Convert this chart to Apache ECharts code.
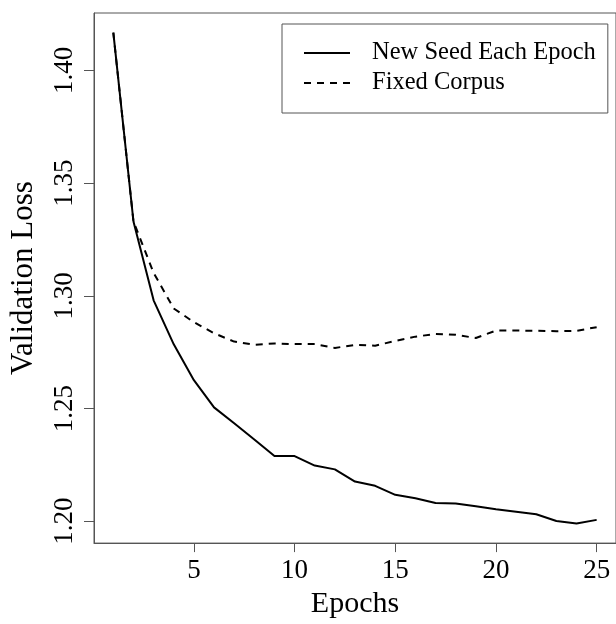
<!DOCTYPE html>
<html>
<head>
<meta charset="utf-8">
<script src="https://cdn.jsdelivr.net/npm/echarts@6/dist/echarts.min.js"></script>
<style>
  html, body { margin: 0; padding: 0; background: #fff; }
  #chart { width: 616px; height: 624px; }
</style>
</head>
<body>
<div id="chart"></div>
<script>
// Validation loss per epoch for the two training regimes
const epochs = [1, 2, 3, 4, 5, 6, 7, 8, 9, 10, 11, 12, 13, 14, 15, 16, 17, 18, 19, 20, 21, 22, 23, 24, 25];
const newSeedLoss = [1.4168, 1.3330, 1.2980, 1.2785, 1.2626, 1.2505, 1.2435, 1.2363, 1.2289, 1.2289,
                     1.2247, 1.2230, 1.2176, 1.2157, 1.2117, 1.2102, 1.2081, 1.2079, 1.2066, 1.2053,
                     1.2042, 1.2031, 1.2001, 1.1990, 1.2006];
const fixedCorpusLoss = [1.4168, 1.3330, 1.3102, 1.2944, 1.2883, 1.2834, 1.2797, 1.2783, 1.2789, 1.2786,
                         1.2786, 1.2769, 1.2782, 1.2779, 1.2800, 1.2819, 1.2831, 1.2827, 1.2813, 1.2846,
                         1.2846, 1.2845, 1.2843, 1.2845, 1.2861];
const xTicks = [5, 10, 15, 20, 25];
const yTicks = [1.20, 1.25, 1.30, 1.35, 1.40];
const seriesNames = ['New Seed Each Epoch', 'Fixed Corpus'];

const FONT = '"Liberation Serif", "DejaVu Serif", serif';
const AXIS_GREY = '#555';

// Axis range padded 4% beyond the data, like base R graphics
function padRange(values, frac) {
  const lo = Math.min(...values), hi = Math.max(...values);
  const d = (hi - lo) * frac;
  return [lo - d, hi + d];
}
const xRange = padRange(epochs, 0.04);
const yRange = padRange(newSeedLoss.concat(fixedCorpusLoss), 0.04);

const pairs = (ys) => epochs.map((e, i) => [e, ys[i]]);

const chart = echarts.init(document.getElementById('chart'), null, { renderer: 'canvas' });
chart.setOption({
  backgroundColor: '#fff',
  animation: false,
  textStyle: { fontFamily: FONT, color: '#000' },
  grid: {
    left: 93, top: 13, right: -3, bottom: 76,
    show: true, borderColor: AXIS_GREY, borderWidth: 1, backgroundColor: 'transparent'
  },
  legend: {
    orient: 'vertical',
    left: 282, top: 24,
    padding: [14, 12, 15, 21],
    itemGap: 0,
    itemWidth: 46, itemHeight: 14,
    borderColor: AXIS_GREY, borderWidth: 1,
    backgroundColor: '#fff',
    // line-only keys: hide the marker that line legends draw by default
    itemStyle: { opacity: 0 },
    textStyle: { fontFamily: FONT, fontSize: 24.5, color: '#000', lineHeight: 30, padding: [0, 0, 0, 17] },
    data: seriesNames
  },
  xAxis: {
    type: 'value',
    min: xRange[0], max: xRange[1],
    name: 'Epochs', nameLocation: 'middle', nameGap: 42,
    nameTextStyle: { fontFamily: FONT, fontSize: 30, color: '#000' },
    axisLine: { show: true, lineStyle: { color: AXIS_GREY, width: 1 } },
    axisTick: { show: true, inside: false, length: 9, customValues: xTicks, lineStyle: { color: AXIS_GREY } },
    axisLabel: { customValues: xTicks, margin: 14, fontFamily: FONT, fontSize: 27, color: '#000' },
    splitLine: { show: false }
  },
  yAxis: {
    type: 'value',
    min: yRange[0], max: yRange[1],
    name: 'Validation Loss', nameLocation: 'middle', nameGap: 55,
    nameTextStyle: { fontFamily: FONT, fontSize: 31, color: '#000' },
    axisLine: { show: true, lineStyle: { color: AXIS_GREY, width: 1 } },
    axisTick: { show: true, inside: false, length: 10, customValues: yTicks, lineStyle: { color: AXIS_GREY } },
    axisLabel: {
      customValues: yTicks, rotate: 90, margin: 16,
      fontFamily: FONT, fontSize: 27, color: '#000',
      formatter: (v) => v.toFixed(2)
    },
    splitLine: { show: false }
  },
  series: [
    {
      name: seriesNames[0], type: 'line', data: pairs(newSeedLoss),
      symbol: 'none', clip: true,
      lineStyle: { color: '#000', width: 2, type: 'solid' },
      itemStyle: { color: '#000' }
    },
    {
      name: seriesNames[1], type: 'line', data: pairs(fixedCorpusLoss),
      symbol: 'none', clip: true,
      lineStyle: { color: '#000', width: 2, type: [7, 6] },
      itemStyle: { color: '#000' }
    }
  ]
});
</script>
</body>
</html>
